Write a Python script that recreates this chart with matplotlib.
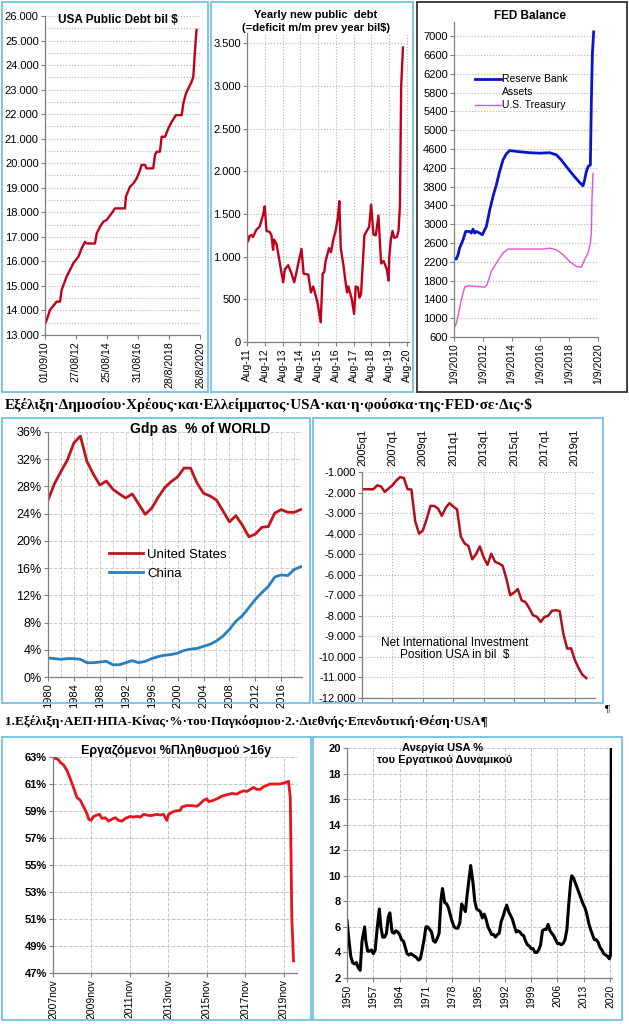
import matplotlib
matplotlib.use('Agg')
import matplotlib.pyplot as plt
from matplotlib.ticker import FuncFormatter, MultipleLocator
from matplotlib.patches import Rectangle
from matplotlib.lines import Line2D

plt.rcParams['font.family'] = ['Liberation Sans', 'DejaVu Sans']

# ---------------- DATA ----------------
# 1. USA public debt (bil $)
debt_x = [2010.67, 2010.78, 2010.99, 2011.42, 2011.64, 2011.74, 2012.06, 2012.28, 2012.49, 2012.82,
          2013.03, 2013.25, 2013.35, 2013.89, 2014.00, 2014.21, 2014.43, 2014.64, 2014.96, 2015.18,
          2015.82, 2015.88, 2016.14, 2016.36, 2016.57, 2016.79, 2016.89, 2017.11, 2017.21, 2017.64,
          2017.75, 2017.86, 2018.07, 2018.18, 2018.40, 2018.61, 2018.83, 2019.10, 2019.47, 2019.58,
          2019.75, 2019.90, 2020.11, 2020.22, 2020.33, 2020.39, 2020.43]
debt_y = [13450, 13610, 14020, 14360, 14360, 14830, 15380, 15650, 15920, 16190,
          16530, 16800, 16730, 16730, 17140, 17410, 17620, 17690, 17960, 18160,
          18160, 18640, 19040, 19180, 19380, 19720, 19930, 19930, 19790, 19790,
          20330, 20470, 20470, 21080, 21080, 21420, 21690, 21960, 21960, 22440,
          22850, 23050, 23320, 23530, 24610, 25160, 25430]
debt_tick_pos = [2010.67, 2012.65, 2014.65, 2016.66, 2018.65, 2020.65]
debt_tick_labels = ['01/09/10', '27/08/12', '25/08/14', '31/08/16', '28/8/2018', '26/8/2020']

# 2. Yearly new public debt (bil $)
new_x = [2011.58, 2011.64, 2011.73, 2011.83, 2011.92, 2012.02, 2012.11, 2012.30, 2012.49, 2012.58,
         2012.68, 2012.86, 2012.96, 2013.05, 2013.11, 2013.24, 2013.37, 2013.49, 2013.62, 2013.71,
         2013.90, 2014.09, 2014.24, 2014.35, 2014.50, 2014.65, 2014.77, 2015.03, 2015.18, 2015.31,
         2015.44, 2015.56, 2015.73, 2015.84, 2015.93, 2016.01, 2016.20, 2016.31, 2016.44, 2016.57,
         2016.69, 2016.78, 2016.86, 2017.01, 2017.10, 2017.21, 2017.29, 2017.48, 2017.61, 2017.70,
         2017.82, 2017.91, 2018.00, 2018.19, 2018.32, 2018.46, 2018.57, 2018.70, 2018.83, 2018.98,
         2019.13, 2019.27, 2019.45, 2019.55, 2019.59, 2019.68, 2019.77, 2019.87, 2020.02, 2020.11,
         2020.19, 2020.26, 2020.36]
new_y = [1257, 1180, 1240, 1255, 1230, 1276, 1315, 1354, 1491, 1590,
         1300, 1290, 1250, 1080, 1200, 1150, 1000, 850, 700, 850,
         900, 800, 700, 800, 950, 1090, 800, 790, 580, 650,
         550, 450, 230, 800, 820, 950, 1100, 1050, 1200, 1300,
         1450, 1650, 1100, 900, 750, 580, 650, 500, 330, 650,
         640, 520, 560, 1250, 1300, 1350, 1610, 1260, 1250, 1480,
         920, 950, 850, 720, 1000, 1200, 1300, 1220, 1230, 1300,
         1600, 3000, 3450]
new_tick_pos = [2011.583, 2012.583, 2013.583, 2014.583, 2015.583, 2016.583, 2017.583, 2018.583, 2019.583, 2020.583]
new_tick_labels = ['Aug-11', 'Aug-12', 'Aug-13', 'Aug-14', 'Aug-15', 'Aug-16', 'Aug-17', 'Aug-18', 'Aug-19', 'Aug-20']

# 3. FED balance
fed_x = [2010.67, 2010.83, 2010.95, 2011.06, 2011.30, 2011.48, 2011.76, 2011.87, 2011.99, 2012.11,
         2012.22, 2012.45, 2012.64, 2012.80, 2012.92, 2013.15, 2013.38, 2013.61, 2013.84, 2014.07,
         2014.30, 2014.54, 2015.23, 2015.92, 2016.62, 2017.31, 2017.78, 2018.12, 2018.47, 2018.93,
         2019.40, 2019.63, 2019.74, 2019.86, 2019.98, 2020.14, 2020.21, 2020.28, 2020.37]
fed_assets = [2280, 2257, 2350, 2490, 2670, 2845, 2845, 2810, 2895, 2810,
              2845, 2810, 2775, 2880, 2950, 3300, 3590, 3835, 4120, 4365,
              4495, 4565, 4540, 4520, 4510, 4520, 4475, 4365, 4225, 4050,
              3885, 3815, 3940, 4120, 4225, 4260, 5640, 6630, 7090]
tsy_x = [2010.67, 2010.79, 2010.95, 2011.18, 2011.41, 2011.64, 2012.22, 2012.80, 2012.96, 2013.26,
         2013.61, 2014.07, 2014.42, 2015.46, 2016.85, 2017.31, 2017.78, 2018.24, 2018.70, 2019.17,
         2019.51, 2019.74, 2019.98, 2020.14, 2020.21, 2020.25, 2020.32]
tsy_y = [790, 860, 1040, 1395, 1660, 1690, 1675, 1660, 1710, 1995,
         2170, 2385, 2470, 2470, 2470, 2490, 2455, 2350, 2205, 2100,
         2085, 2245, 2385, 2600, 2810, 3515, 4080]
fed_tick_pos = [2010.67, 2012.67, 2014.67, 2016.67, 2018.67, 2020.67]
fed_tick_labels = ['1/9/2010', '1/9/2012', '1/9/2014', '1/9/2016', '1/9/2018', '1/9/2020']
fed_series = ['Reserve Bank\nAssets', 'U.S. Treasury']

# 4. GDP as % of world
gdp_years = list(range(1980, 2020))
gdp_us = [26.0, 28.4, 30.2, 31.9, 34.4, 35.4, 31.7, 29.8, 28.2, 28.8,
          27.6, 26.9, 26.3, 26.9, 25.4, 23.9, 24.8, 26.4, 27.8, 28.7,
          29.4, 30.7, 30.7, 28.5, 27.0, 26.6, 26.0, 24.4, 22.8, 23.7,
          22.3, 20.6, 21.0, 22.0, 22.1, 24.1, 24.6, 24.2, 24.2, 24.6]
gdp_cn = [2.8, 2.7, 2.6, 2.7, 2.7, 2.6, 2.1, 2.1, 2.2, 2.3,
          1.8, 1.8, 2.1, 2.4, 2.1, 2.3, 2.7, 3.0, 3.2, 3.3,
          3.5, 3.9, 4.1, 4.2, 4.5, 4.8, 5.3, 6.0, 7.0, 8.2,
          9.0, 10.2, 11.4, 12.4, 13.3, 14.7, 15.0, 14.9, 15.8, 16.2]
gdp_series = ['United States', 'China']

# 5. Net international investment position (bil $), quarterly 2005q1..2019q4
niip_q = list(range(60))
niip = [-1840, -1840, -1840, -1840, -1650, -1700, -1970, -1800, -1650, -1420,
        -1250, -1290, -1840, -1850, -3400, -4000, -3850, -3300, -2650, -2650,
        -2780, -3130, -2750, -2520, -2680, -2820, -4150, -4480, -4600, -5250,
        -5000, -4620, -5150, -5520, -4980, -5370, -5450, -5560, -6200, -7000,
        -6870, -6700, -7250, -7330, -7630, -7980, -8040, -8300, -8060, -8000,
        -7750, -7730, -7770, -8900, -9600, -9580, -10150, -10550, -10870, -11030]
niip_tick_pos = [0, 8, 16, 24, 32, 40, 48, 56]
niip_tick_labels = ['2005q1', '2007q1', '2009q1', '2011q1', '2013q1', '2015q1', '2017q1', '2019q1']

# 6. Employment-population ratio (%)
emp_x = [2007.83, 2007.95, 2008.08, 2008.21, 2008.39, 2008.56, 2008.73, 2008.91, 2009.08, 2009.25,
         2009.43, 2009.60, 2009.69, 2009.81, 2009.95, 2010.12, 2010.26, 2010.38, 2010.55, 2010.73,
         2010.90, 2011.08, 2011.25, 2011.42, 2011.60, 2011.86, 2012.03, 2012.20, 2012.38, 2012.55,
         2012.72, 2012.90, 2013.07, 2013.24, 2013.42, 2013.59, 2013.76, 2013.85, 2014.02, 2014.20,
         2014.46, 2014.54, 2014.80, 2015.06, 2015.32, 2015.50, 2015.67, 2015.84, 2015.93, 2016.10,
         2016.36, 2016.62, 2016.88, 2017.14, 2017.40, 2017.58, 2017.75, 2017.92, 2018.10, 2018.27,
         2018.44, 2018.62, 2018.79, 2018.96, 2019.14, 2019.31, 2019.66, 2019.92, 2020.09, 2020.18,
         2020.26, 2020.35]
emp_y = [62.9, 62.9, 62.85, 62.6, 62.4, 62.0, 61.4, 60.7, 60.0, 59.8,
         59.3, 58.8, 58.4, 58.3, 58.6, 58.7, 58.75, 58.45, 58.5, 58.25,
         58.4, 58.5, 58.3, 58.25, 58.45, 58.6, 58.55, 58.6, 58.55, 58.75,
         58.7, 58.65, 58.7, 58.75, 58.7, 58.75, 58.3, 58.75, 58.9, 59.0,
         59.05, 59.3, 59.4, 59.4, 59.35, 59.55, 59.8, 59.9, 59.7, 59.75,
         59.9, 60.1, 60.2, 60.3, 60.25, 60.4, 60.5, 60.45, 60.6, 60.75,
         60.6, 60.6, 60.8, 60.9, 61.0, 61.0, 61.0, 61.1, 61.2, 60.0,
         51.1, 47.9]
emp_tick_pos = [2007.833, 2009.833, 2011.833, 2013.833, 2015.833, 2017.833, 2019.833]
emp_tick_labels = ['2007nov', '2009nov', '2011nov', '2013nov', '2015nov', '2017nov', '2019nov']

# 7. Unemployment rate (%)
un_x = [1950.0, 1950.5, 1951.0, 1951.5, 1952.0, 1952.5, 1953.0, 1953.5, 1954.0, 1954.7,
        1955.0, 1955.5, 1956.0, 1956.5, 1957.0, 1957.5, 1958.0, 1958.6, 1959.0, 1959.5,
        1960.0, 1960.5, 1961.0, 1961.4, 1962.0, 1962.5, 1963.0, 1963.5, 1964.0, 1964.5,
        1965.0, 1965.5, 1966.0, 1966.5, 1967.0, 1967.5, 1968.0, 1968.5, 1969.0, 1969.5,
        1970.0, 1970.5, 1971.0, 1971.5, 1972.0, 1972.5, 1973.0, 1973.5, 1974.0, 1974.5,
        1975.0, 1975.4, 1976.0, 1976.5, 1977.0, 1977.5, 1978.0, 1978.5, 1979.0, 1979.5,
        1980.0, 1980.5, 1981.0, 1981.5, 1982.0, 1982.5, 1982.9, 1983.5, 1984.0, 1984.5,
        1985.0, 1985.5, 1986.0, 1986.5, 1987.0, 1987.5, 1988.0, 1988.5, 1989.0, 1989.5,
        1990.0, 1990.5, 1991.0, 1991.5, 1992.0, 1992.5, 1993.0, 1993.5, 1994.0, 1994.5,
        1995.0, 1995.5, 1996.0, 1996.5, 1997.0, 1997.5, 1998.0, 1998.5, 1999.0, 1999.5,
        2000.0, 2000.5, 2001.0, 2001.5, 2002.0, 2002.5, 2003.0, 2003.5, 2004.0, 2004.5,
        2005.0, 2005.5, 2006.0, 2006.5, 2007.0, 2007.5, 2008.0, 2008.5, 2009.0, 2009.5,
        2009.8, 2010.3, 2010.8, 2011.3, 2011.8, 2012.3, 2012.8, 2013.3, 2013.8, 2014.3,
        2014.8, 2015.3, 2015.8, 2016.3, 2016.8, 2017.3, 2017.8, 2018.3, 2018.8, 2019.3,
        2019.8, 2020.1, 2020.2, 2020.3]
un_y = [6.5, 5.0, 3.7, 3.2, 3.1, 3.2, 2.8, 2.6, 4.9, 6.0,
        4.9, 4.1, 4.1, 4.2, 3.9, 4.2, 5.8, 7.4, 6.0, 5.2,
        5.2, 5.5, 6.8, 7.1, 5.6, 5.5, 5.7, 5.6, 5.4, 5.0,
        4.9, 4.4, 3.9, 3.8, 3.9, 3.8, 3.7, 3.6, 3.4, 3.5,
        4.2, 5.0, 6.0, 6.0, 5.8, 5.6, 4.9, 4.8, 5.1, 5.5,
        8.1, 9.0, 7.9, 7.8, 7.5, 6.9, 6.4, 6.0, 5.9, 5.9,
        6.3, 7.8, 7.5, 7.2, 8.6, 9.8, 10.8, 9.5, 8.0, 7.4,
        7.3, 7.2, 6.7, 7.0, 6.6, 6.0, 5.7, 5.4, 5.4, 5.2,
        5.4, 5.5, 6.4, 6.8, 7.3, 7.7, 7.2, 6.9, 6.6, 6.1,
        5.6, 5.7, 5.6, 5.4, 5.3, 4.9, 4.6, 4.5, 4.3, 4.3,
        4.0, 4.0, 4.2, 4.6, 5.7, 5.8, 5.8, 6.2, 5.7, 5.5,
        5.3, 5.0, 4.7, 4.7, 4.6, 4.7, 5.0, 5.8, 7.8, 9.5,
        10.0, 9.8, 9.4, 9.0, 8.6, 8.2, 7.8, 7.5, 7.0, 6.3,
        5.8, 5.4, 5.0, 5.0, 4.8, 4.4, 4.2, 3.9, 3.8, 3.7,
        3.5, 3.8, 4.4, 20.0]
un_tick_pos = [1950, 1957, 1964, 1971, 1978, 1985, 1992, 1999, 2006, 2013, 2020]
un_tick_labels = ['1950', '1957', '1964', '1971', '1978', '1985', '1992', '1999', '2006', '2013', '2020']

caption1 = 'Εξέλιξη·Δημοσίου·Χρέους·και·Ελλείμματος·USA·και·η·φούσκα·της·FED·σε·Δις·$'
caption2 = '1.Εξέλιξη·ΑΕΠ·ΗΠΑ-Κίνας·%·του·Παγκόσμιου·2.·Διεθνής·Επενδυτική·Θέση·USA¶'

# ---------------- FIGURE ----------------
W, H = 629, 1024
fig = plt.figure(figsize=(W / 100, H / 100), dpi=100)
fig.patch.set_facecolor('white')


def ax_px(x0, y0, x1, y1):
    return fig.add_axes([x0 / W, 1 - y1 / H, (x1 - x0) / W, (y1 - y0) / H])


def frame(x0, y0, x1, y1, color):
    fig.add_artist(Rectangle((x0 / W, 1 - y1 / H), (x1 - x0) / W, (y1 - y0) / H,
                             transform=fig.transFigure, fill=False, edgecolor=color, lw=1.3))


def ftext(x, y, s, **kw):
    fig.text(x / W, 1 - y / H, s, **kw)


def fline(x0, x1, y, **kw):
    fig.add_artist(Line2D([x0 / W, x1 / W], [1 - y / H, 1 - y / H],
                          transform=fig.transFigure, **kw))


eu = FuncFormatter(lambda v, p: f"{v:,.0f}".replace(",", "."))
pct = FuncFormatter(lambda v, p: f"{v:.0f}%")


def style(ax, size=8):
    for s in ['top', 'right']:
        ax.spines[s].set_visible(False)
    for s in ['left', 'bottom']:
        ax.spines[s].set_color('#7f7f7f')
        ax.spines[s].set_linewidth(0.9)
    ax.tick_params(direction='out', length=3, width=0.8, color='#7f7f7f',
                   labelsize=size, pad=1.5)
    ax.set_facecolor('none')


GRIDC = '#b4b4b4'
BLUEF = '#74c0e0'
SERIF = ['Liberation Serif', 'DejaVu Serif']

# Panel 1
ax1 = ax_px(45, 16, 200, 335)
style(ax1)
ax1.plot(debt_x, debt_y, color='#c0001a', lw=1.7)
ax1.set_xlim(2010.67, 2020.65)
ax1.set_ylim(13000, 26000)
ax1.yaxis.set_major_locator(MultipleLocator(1000))
ax1.yaxis.set_minor_locator(MultipleLocator(500))
ax1.yaxis.set_major_formatter(eu)
ax1.tick_params(axis='y', which='minor', length=0)
ax1.grid(axis='y', which='both', linestyle=':', color=GRIDC, lw=0.8)
ax1.set_xticks(debt_tick_pos, debt_tick_labels, rotation=90, fontsize=7.5)
ftext(58, 20, 'USA Public Debt bil $', fontsize=8.5, fontweight='bold', va='center')

# Panel 2
ax2 = ax_px(247, 33, 409, 342)
style(ax2)
ax2.plot(new_x, new_y, color='#c0001a', lw=1.7)
ax2.set_xlim(2011.583, 2020.7)
ax2.set_ylim(0, 3620)
ax2.set_yticks(range(0, 3501, 500))
ax2.yaxis.set_major_formatter(eu)
ax2.set_xticks(new_tick_pos, new_tick_labels, rotation=90, fontsize=7.5)
ax2.grid(True, linestyle=':', color=GRIDC, lw=0.8)
ftext(316, 15, 'Yearly new public  debt', fontsize=8, fontweight='bold', ha='center', va='center')
ftext(316, 28, '(=deficit m/m prev year bil$)', fontsize=8, fontweight='bold', ha='center', va='center')

# Panel 3
ax3 = ax_px(454, 22, 598, 337)
style(ax3)
ax3.plot(fed_x, fed_assets, color='#0a14c8', lw=2.0)
ax3.plot(tsy_x, tsy_y, color='#e050e0', lw=1.0)
ax3.set_xlim(2010.67, 2020.67)
ax3.set_ylim(600, 7300)
ax3.set_yticks(range(600, 7001, 400))
ax3.set_xticks(fed_tick_pos, fed_tick_labels, rotation=90, fontsize=7.5)
ax3.grid(axis='y', linestyle=':', color=GRIDC, lw=0.8)
# legend (drawn as in the original: handle aligned with first text line)
fline(475, 501, 79, color='#0a14c8', lw=2.0)
ftext(502, 79, fed_series[0].split('\n')[0], fontsize=7.5, va='center')
ftext(502, 92, fed_series[0].split('\n')[1], fontsize=7.5, va='center')
fline(475, 501, 105, color='#e050e0', lw=1.0)
ftext(502, 105, fed_series[1], fontsize=7.5, va='center')
ftext(530, 16, 'FED Balance', fontsize=8.5, fontweight='bold', ha='center', va='center')

ftext(5, 405, caption1, fontsize=10.8, fontweight='bold', va='center', fontfamily=SERIF)

# Panel 4
ax4 = ax_px(48, 432, 302, 677)
style(ax4, size=9)
ax4.plot(gdp_years, gdp_us, color='#c0141c', lw=2.0, label=gdp_series[0])
ax4.plot(gdp_years, gdp_cn, color='#2a7fc0', lw=2.0, label=gdp_series[1])
ax4.set_xlim(1980, 2019.2)
ax4.set_ylim(0, 36)
ax4.set_yticks(range(0, 37, 4))
ax4.yaxis.set_major_formatter(pct)
ax4.set_xticks(range(1980, 2017, 4), [str(y) for y in range(1980, 2017, 4)], rotation=90, fontsize=8)
ax4.xaxis.set_minor_locator(MultipleLocator(2))
ax4.tick_params(axis='x', which='minor', length=0)
ax4.grid(True, which='both', linestyle='--', color='#cccccc', lw=0.7)
ax4.legend(loc='upper left', bbox_to_anchor=(0.22, 0.545), frameon=False, fontsize=9.5,
           handlelength=2.6, handletextpad=0.3, labelspacing=0.5, borderaxespad=0)
ftext(200, 429, 'Gdp as  % of WORLD', fontsize=10, fontweight='bold', ha='center', va='center')

# Panel 5
ax5 = ax_px(362, 472, 595, 698)
style(ax5)
ax5.plot(niip_q, niip, color='#b0101a', lw=1.8)
ax5.set_xlim(0, 61.3)
ax5.set_ylim(-12000, -1000)
ax5.set_yticks(range(-12000, -999, 1000))
ax5.yaxis.set_major_formatter(eu)
ax5.set_xticks(niip_tick_pos, niip_tick_labels, fontsize=8)
ax5.tick_params(axis='x', bottom=True, top=False, labelbottom=False, labeltop=True,
                labelrotation=90)
ax5.grid(True, linestyle=':', color=GRIDC, lw=0.8)
ftext(455, 649, 'Net International Investment\nPosition USA in bil  $', fontsize=8.5,
      ha='center', va='center', linespacing=1.05)
ftext(607, 709, '¶', fontsize=8, ha='center', va='center', fontfamily=SERIF)

ftext(5, 722, caption2, fontsize=9.5, fontweight='bold', va='center', fontfamily=SERIF)

# Panel 6
ax6 = ax_px(53, 757, 297, 973)
style(ax6)
ax6.plot(emp_x, emp_y, color='#e8141c', lw=2.0)
ax6.set_xlim(2007.833, 2020.53)
ax6.set_ylim(47, 63)
ax6.set_yticks(range(47, 64, 2))
ax6.yaxis.set_major_formatter(pct)
for lab in ax6.get_yticklabels():
    lab.set_fontweight('bold')
ax6.set_xticks(emp_tick_pos, emp_tick_labels, rotation=90, fontsize=7.5)
ax6.grid(True, linestyle='--', color='#c4c4c4', lw=0.7)
ftext(176, 750, 'Εργαζόμενοι %Πληθυσμού >16y', fontsize=9, fontweight='bold',
      ha='center', va='center')

# Panel 7
ax7 = ax_px(347, 748, 612, 978)
style(ax7)
ax7.plot(un_x, un_y, color='black', lw=2.2)
ax7.set_xlim(1950, 2020.5)
ax7.set_ylim(2, 20)
ax7.set_yticks(range(2, 21, 2))
for lab in ax7.get_yticklabels():
    lab.set_fontweight('bold')
ax7.set_xticks(un_tick_pos, un_tick_labels, rotation=90, fontsize=7.5)
ax7.grid(True, linestyle='--', color='#c4c4c4', lw=0.7)
ftext(442, 748, 'Ανεργία USA %', fontsize=8, fontweight='bold', ha='center', va='center')
ftext(445, 760, 'του Εργατικού Δυναμικού', fontsize=8, fontweight='bold', ha='center', va='center')

# Frames
frame(2, 2, 208, 392, BLUEF)
frame(211, 2, 413, 392, BLUEF)
frame(417, 2, 627, 392, '#333333')
frame(2, 418, 310, 703, BLUEF)
frame(313, 418, 603, 703, BLUEF)
frame(2, 737, 311, 1020, BLUEF)
frame(313, 737, 622, 1020, BLUEF)

fig.savefig('out.png', dpi=100)
